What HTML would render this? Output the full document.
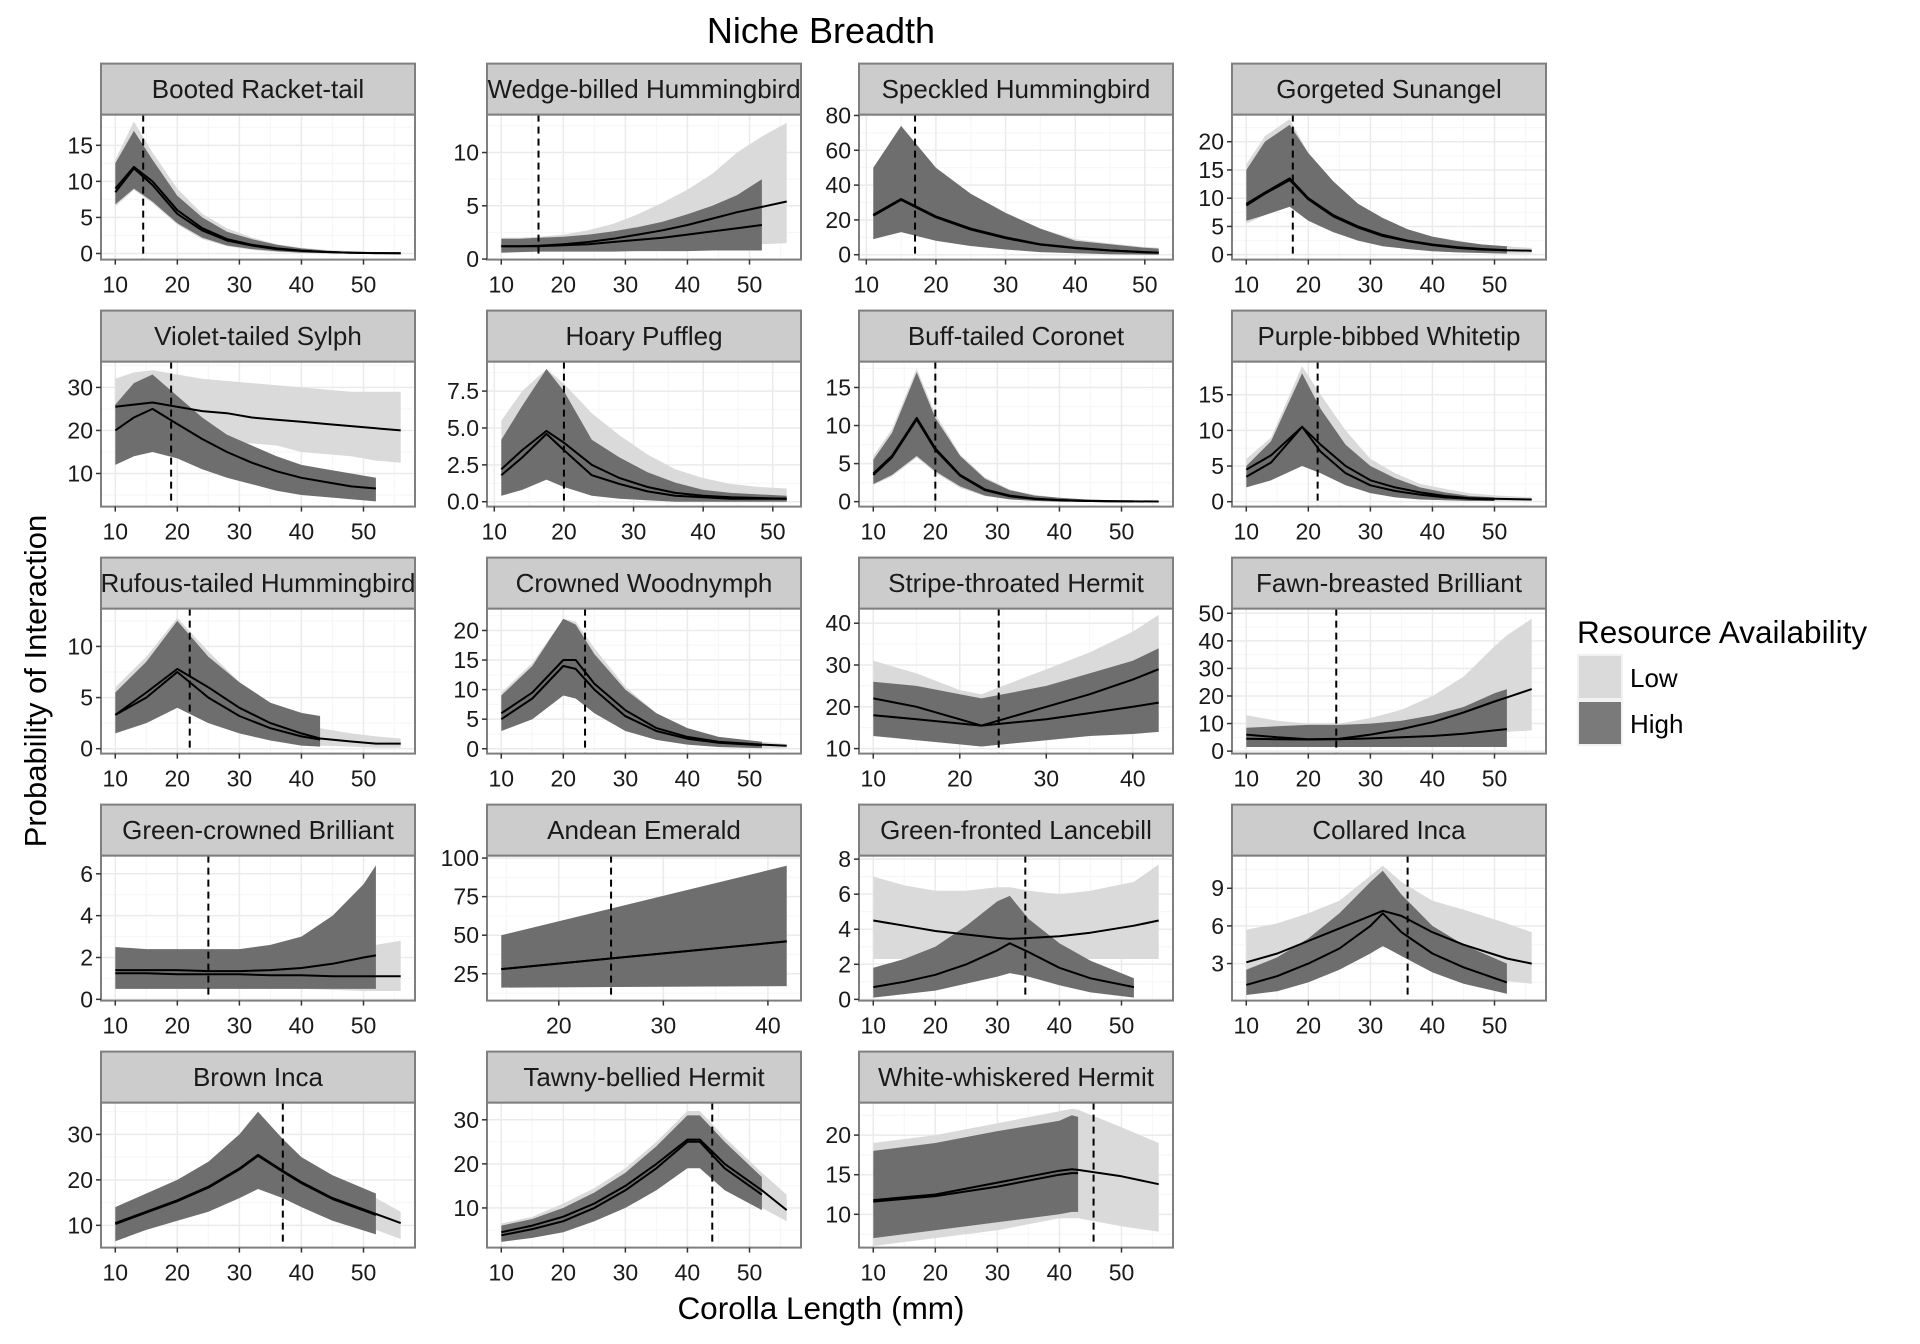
<!DOCTYPE html>
<html><head><meta charset="utf-8"><title>Niche Breadth</title>
<style>html,body{margin:0;padding:0;background:#fff;}svg{display:block;font-family:"Liberation Sans",Arial,sans-serif;}</style>
</head><body>
<svg id="chart" width="1920" height="1344" viewBox="0 0 1920 1344">
<text x="821" y="43" font-size="36" text-anchor="middle" fill="#000">Niche Breadth</text>
<text x="821" y="1319" font-size="31.5" text-anchor="middle" fill="#000">Corolla Length (mm)</text>
<text transform="translate(46,681) rotate(-90)" font-size="31" text-anchor="middle" fill="#000">Probability of Interaction</text>
<g>
<text x="1577" y="643" font-size="31.5" fill="#000">Resource Availability</text>
<rect x="1578" y="655" width="44" height="44" fill="#dadada" stroke="#f2f2f2" stroke-width="2"/>
<rect x="1578" y="701" width="44" height="44" fill="#7a7a7a" stroke="#f2f2f2" stroke-width="2"/>
<text x="1630" y="687" font-size="26" fill="#000">Low</text>
<text x="1630" y="733" font-size="26" fill="#000">High</text>
</g>
<g id="panels"></g>
</svg>
<script>
// ---------- data ----------
const bootedX=[10,13,16,20,24,28,32,36,40,44,48,52,56];
const bootedLowLo=[6.5,8.8,7,4,2,1,0.5,0.2,0.1,0,0,0,0];
const bootedLowHi=[13,18.3,14,9,5.5,3.5,2.2,1.3,0.8,0.5,0.3,0.2,0.1];
const bootedLowLine=[9,12,10,6,3.5,2,1.2,0.7,0.4,0.2,0.1,0.05,0.03];
const bootedHighLo=[6.8,9,7.2,4.2,2.2,1.1,0.6,0.3,0.1,0.05,0,0,0];
const bootedHighHi=[12.5,17,13,8,5,3,2,1.2,0.7,0.4,0.2,0.1,0.05];
const bootedHighLine=[8.5,11.8,9.5,5.5,3.2,1.8,1.1,0.6,0.35,0.2,0.1,0.05,0.03];

const wedgeX=[10,13,16,20,24,28,32,36,40,44,48,52,56];
const wedgeLowLo=[0.7,0.7,0.7,0.75,0.8,0.8,0.85,0.9,1,1.1,1.2,1.4,1.5];
const wedgeLowHi=[2,2,2.1,2.3,2.7,3.3,4.2,5.3,6.5,8,10,11.5,12.8];
const wedgeLowLine=[1.2,1.2,1.25,1.4,1.6,1.9,2.3,2.7,3.2,3.8,4.4,4.9,5.4];
const wedgeHighLo=[0.6,0.65,0.7,0.7,0.7,0.7,0.75,0.75,0.75,0.8,0.8,0.8,null];
const wedgeHighHi=[1.9,1.9,2,2.1,2.3,2.6,3,3.5,4.2,5,6,7.5,null];
const wedgeHighLine=[1.2,1.2,1.2,1.3,1.4,1.6,1.8,2.0,2.3,2.6,2.9,3.2,null];

const speckX=[11,15,20,25,30,35,40,45,50,52];
const speckLowLo=[9,13,8,5,3,1.5,0.8,0.3,0.1,0.1];
const speckLowHi=[50,74,50,35,24,15,9,6.5,4.5,4];
const speckLowLine=[23,32,22,15,10,6,4,2.5,1.5,1.2];
const speckHighLo=[9,13,8,5,3,1.5,0.8,0.3,0.1,0.1];
const speckHighHi=[50,74,50,35,24,15,8,6,4,3.5];
const speckHighLine=[22.5,31.5,21.5,14.5,9.5,5.8,3.8,2.4,1.4,1.1];

const gorgX=[10,13,17,20,24,28,32,36,40,44,48,52,56];
const gorgLowLo=[5.5,7,8.5,6,4,2.5,1.5,1,0.6,0.4,0.3,0.2,0.2];
const gorgLowHi=[16,21,24,18,13,9,6.5,4.5,3.2,2.5,1.8,1.5,1.2];
const gorgLowLine=[9,11,13.5,10,7,5,3.5,2.5,1.8,1.3,1,0.8,0.7];
const gorgHighLo=[6,7,8.5,6,4,2.5,1.5,1,0.6,0.4,0.3,0.2,null];
const gorgHighHi=[15,20,23,18,13,9,6.5,4.5,3.2,2.4,1.8,1.5,null];
const gorgHighLine=[8.7,10.8,13.2,9.8,6.8,4.8,3.3,2.4,1.7,1.2,0.9,0.8,null];

const violetX=[10,13,16,20,24,28,32,36,40,44,48,52,56];
const violetLowLo=[12,14,15.5,16,16.5,17,17,16.5,15,14.5,14,13,12.5];
const violetLowHi=[32,33.5,34,33,32,31.5,31,30.5,30,29.5,29,29,29];
const violetLowLine=[25.5,26,26.5,25.5,24.5,24,23,22.5,22,21.5,21,20.5,20];
const violetHighLo=[12,14,15,13.5,11,9,7.5,6,5,4.5,4,3.5,null];
const violetHighHi=[26,31,33,28,23,19,16.5,14,12,11,10,9,null];
const violetHighLine=[20,23,25,21.5,18,15,12.5,10.5,9,8,7,6.5,null];

const hoaryX=[11,14,17.5,20,24,28,32,36,40,44,48,52];
const hoaryLowLo=[0.4,0.8,1.5,1,0.5,0.3,0.1,0,0,0,0,0];
const hoaryLowHi=[5.5,7.5,9,8,6,4.5,3.2,2.2,1.6,1.2,1,0.9];
const hoaryLowLine=[2.2,3.5,4.8,4,2.5,1.6,1,0.6,0.4,0.3,0.25,0.2];
const hoaryHighLo=[0.4,0.8,1.5,1,0.4,0.2,0.1,0,0,0,0,0];
const hoaryHighHi=[4.2,6.5,9,7.5,4.2,3,2,1.3,0.8,0.6,0.5,0.4];
const hoaryHighLine=[1.8,3,4.6,3.5,1.8,1.2,0.7,0.4,0.3,0.2,0.2,0.2];

const buffX=[10,13,17,20,24,28,32,36,40,44,48,52,56];
const buffLowLo=[2.2,3.3,5.8,3.8,1.8,0.7,0.3,0.1,0,0,0,0,0];
const buffLowHi=[6,9.5,17.5,11.5,6.2,3.2,1.6,0.9,0.5,0.3,0.2,0.15,0.1];
const buffLowLine=[3.7,6,11,7,3.5,1.6,0.8,0.4,0.2,0.1,0.05,0.03,0.02];
const buffHighLo=[2.3,3.5,6,4,2,0.8,0.3,0.1,0,0,0,0,null];
const buffHighHi=[5.5,9,17,11,6,3,1.5,0.8,0.5,0.3,0.2,0.1,null];
const buffHighLine=[3.5,5.8,10.8,6.8,3.4,1.5,0.7,0.35,0.2,0.1,0.05,0.03,null];

const purpleX=[10,14,19,22,26,30,34,38,42,46,50,56];
const purpleLowLo=[2.5,3.5,5.5,4,2.5,1.5,0.8,0.5,0.3,0.2,0.1,0.1];
const purpleLowHi=[6,9,19,15,10,6,4,2.5,1.8,1.2,0.9,0.6];
const purpleLowLine=[4.5,6.5,10.5,8,5,3,2,1.3,0.8,0.5,0.4,0.3];
const purpleHighLo=[2,3,5,4,2.3,1.2,0.6,0.3,0.2,0.1,0.1,null];
const purpleHighHi=[5,8.5,18,13,8,5,3.3,2,1.3,0.8,0.6,null];
const purpleHighLine=[3.5,5.5,10.5,7,4,2.3,1.5,1,0.6,0.4,0.3,null];

const rufousX=[10,15,20,25,30,35,40,43,48,52,56];
const rufousLowLo=[1.5,2.5,4,2.5,1.5,0.8,0.4,0.3,0.2,0.1,0.1];
const rufousLowHi=[6,9,12.8,9.5,6.5,4,2.5,2,1.5,1.2,1];
const rufousLowLine=[3.3,5.5,7.8,6,4,2.5,1.5,1,0.7,0.5,0.5];
const rufousHighLo=[1.5,2.5,4,2.5,1.5,0.8,0.3,0.2,null,null,null];
const rufousHighHi=[5.5,8.5,12.5,9,6.5,4.5,3.5,3.2,null,null,null];
const rufousHighLine=[3.3,5,7.5,5,3.2,2,1.2,0.9,null,null,null];

const crownedX=[10,15,20,22,25,30,35,40,45,52,56];
const crownedLowLo=[3,5,9,8.5,6,3,1.5,0.7,0.3,0.1,0.1];
const crownedLowHi=[9.5,14.5,22,21.5,17,10.5,6,3.5,2,1.2,0.8];
const crownedLowLine=[6,9.5,15,15,11,6.5,3.5,2,1.2,0.7,0.5];
const crownedHighLo=[3,5,9,8.5,6,3,1.5,0.7,0.3,0.1,null];
const crownedHighHi=[9,14,22,21,16,10,6,3.5,2,1.2,null];
const crownedHighLine=[5,8.5,14,13.5,10,5.5,3,1.7,1,0.6,null];

const stripeX=[10,15,20,22.5,25,30,35,40,43];
const stripeLowLo=[13,12.5,11,10.5,11,12,13,14,14.5];
const stripeLowHi=[31,28,24,23,25,29,33,38,42];
const stripeLowLine=[22,20,17,15.5,17,20,23,26.5,29];
const stripeHighLo=[13,12,11,10.5,11,12,13,13.5,14];
const stripeHighHi=[26,25,23,22,23,25,28,31,34];
const stripeHighLine=[18,17,16,15.5,16,17,18.5,20,21];

const fawnX=[10,15,20,25,30,35,40,45,50,52,56];
const fawnLowLo=[1.5,1.5,1.5,1.5,2,2.5,3,4,6,7,7.5];
const fawnLowHi=[13,11,10,10,12,15,20,27,38,42,48];
const fawnLowLine=[6,5,4.3,4.5,6,8,10.5,14,18,19.5,22.5];
const fawnHighLo=[1.5,1.5,1.5,1.5,1.5,1.5,1.5,1.5,1.5,1.5,null];
const fawnHighHi=[8.5,9,9.5,9.5,10,11,13,16,21,22.5,null];
const fawnHighLine=[4.5,4.3,4.2,4.3,4.6,5,5.5,6.3,7.5,8,null];

const gcrownX=[10,15,20,25,30,35,40,45,50,52,56];
const gcrownLowLo=[0.5,0.5,0.5,0.5,0.5,0.5,0.5,0.45,0.4,0.4,0.4];
const gcrownLowHi=[2.2,2.1,2,2,2,2,2.1,2.2,2.5,2.6,2.8];
const gcrownLowLine=[1.25,1.25,1.2,1.2,1.2,1.15,1.15,1.1,1.1,1.1,1.1];
const gcrownHighLo=[0.5,0.5,0.5,0.5,0.5,0.5,0.5,0.5,0.5,0.5,null];
const gcrownHighHi=[2.5,2.4,2.4,2.4,2.4,2.6,3,4,5.5,6.4,null];
const gcrownHighLine=[1.4,1.4,1.4,1.35,1.35,1.4,1.5,1.7,2,2.1,null];

const andeanX=[14.5,41.8];
const andeanLowLo=[16,17];
const andeanLowHi=[50,95];
const andeanLowLine=[28,46];
const andeanHighLo=[16,17];
const andeanHighHi=[50,95];
const andeanHighLine=[28,46];

const gfrontX=[10,15,20,25,30,32,35,40,45,52,56];
const gfrontLowLo=[2.3,2.3,2.3,2.3,2.3,2.3,2.3,2.3,2.3,2.3,2.3];
const gfrontLowHi=[7,6.5,6.2,6.2,6.4,6.4,6.2,6.0,6.2,6.7,7.7];
const gfrontLowLine=[4.5,4.2,3.9,3.7,3.5,3.45,3.5,3.6,3.8,4.2,4.5];
const gfrontHighLo=[0.1,0.3,0.5,0.9,1.3,1.5,1.3,0.8,0.4,0.1,null];
const gfrontHighHi=[1.8,2.3,3,4.2,5.6,5.9,4.6,3.2,2.2,1.2,null];
const gfrontHighLine=[0.7,1.0,1.4,2,2.8,3.2,2.7,1.8,1.2,0.7,null];

const collarX=[10,15,20,25,30,32,35,40,45,52,56];
const collarLowLo=[1.3,1.8,2.5,3.2,4,4.3,4,3,2.3,1.6,1.4];
const collarLowHi=[5.7,6.2,7,8,10,10.8,9.5,8,7.3,6.2,5.5];
const collarLowLine=[3.1,3.8,4.8,5.8,6.8,7.2,6.8,5.5,4.5,3.4,3.0];
const collarHighLo=[0.5,0.8,1.5,2.5,3.8,4.4,3.6,2.3,1.4,0.6,null];
const collarHighHi=[2.5,3.5,5,7,9.5,10.4,8.5,6,4.5,3,null];
const collarHighLine=[1.3,2,3,4.2,6,7,5.5,3.8,2.7,1.5,null];

const brownX=[10,15,20,25,30,33,37,40,45,52,56];
const brownLowLo=[7,9.5,11.5,14,17,19,17,15,12,9,7];
const brownLowHi=[14,17,20,24,30,34,29,25,21,16,13];
const brownLowLine=[10.5,13,15.5,18.5,22.5,25.5,22,19.5,16,12.5,10.5];
const brownHighLo=[6.5,9,11,13,16,18,16,14,11,8,null];
const brownHighHi=[14,17,20,24,30,35,29,25,21,17,null];
const brownHighLine=[10.3,12.8,15.3,18.3,22.3,25.3,21.8,19.3,15.8,12.3,null];

const tawnyX=[10,15,20,25,30,35,40,42,46,52,56];
const tawnyLowLo=[2.5,3.5,5,7.5,11,15,20,20,15,10,7];
const tawnyLowHi=[6.5,8,11,14.5,19,25,32,32,26,18,13];
const tawnyLowLine=[4.5,6,8,11,15,20,25.5,25.5,20,14,9.5];
const tawnyHighLo=[2.3,3.2,4.5,7,10,14,19,19,14,9.5,null];
const tawnyHighHi=[6,7.5,10,13.5,18,24,31,31,25,17,null];
const tawnyHighLine=[3.8,5.2,7,10,14,19,25,25,19,13,null];

const whiteX=[10,20,30,40,42,43,50,56];
const whiteLowLo=[6,7,8,9.5,9.5,9.5,8.5,7.8];
const whiteLowHi=[19,20,21.5,23,23.3,23.2,21,19];
const whiteLowLine=[11.8,12.5,14,15.5,15.7,15.6,14.8,13.8];
const whiteHighLo=[7,8,9,10,10.3,10.3,null,null];
const whiteHighHi=[18,19,20.5,21.8,22.5,22.3,null,null];
const whiteHighLine=[11.6,12.3,13.5,15,15.2,15.2,null,null];

const panelNames=["Booted Racket-tail","Wedge-billed Hummingbird","Speckled Hummingbird","Gorgeted Sunangel","Violet-tailed Sylph","Hoary Puffleg","Buff-tailed Coronet","Purple-bibbed Whitetip","Rufous-tailed Hummingbird","Crowned Woodnymph","Stripe-throated Hermit","Fawn-breasted Brilliant","Green-crowned Brilliant","Andean Emerald","Green-fronted Lancebill","Collared Inca","Brown Inca","Tawny-bellied Hermit","White-whiskered Hermit"];
const vlineValues=[14.5,16,17,17.5,19,20,20,21.5,22,23.5,24.5,24.5,25,25,34.5,36,37,44,45.5];
const yMinValues=[-0.85,-0.05,-2.8,-0.87,2.3,-0.33,-0.65,-0.69,-0.48,-0.82,8.8,-0.9,-0.06,7.6,-0.07,0.05,5.1,1.0,5.8];
const yMaxValues=[19.26,13.56,80.5,24.8,36,9.5,18.4,19.65,13.7,23.7,43.5,51.7,6.87,101.6,8.2,11.6,37,33.9,24.1];
const yTickLabels=[["0","5","10","15"],["0","5","10"],["0","20","40","60","80"],["0","5","10","15","20"],["10","20","30"],["0.0","2.5","5.0","7.5"],["0","5","10","15"],["0","5","10","15"],["0","5","10"],["0","5","10","15","20"],["10","20","30","40"],["0","10","20","30","40","50"],["0","2","4","6"],["25","50","75","100"],["0","2","4","6","8"],["3","6","9"],["10","20","30"],["10","20","30"],["10","15","20"]];
const xTickDefault=["10","20","30","40","50"];
const xTickStripe=["10","20","30","40"];
const xTickAndean=["20","30","40"];

const seriesSets=[
 [bootedX,bootedLowLo,bootedLowHi,bootedLowLine,bootedHighLo,bootedHighHi,bootedHighLine,xTickDefault],
 [wedgeX,wedgeLowLo,wedgeLowHi,wedgeLowLine,wedgeHighLo,wedgeHighHi,wedgeHighLine,xTickDefault],
 [speckX,speckLowLo,speckLowHi,speckLowLine,speckHighLo,speckHighHi,speckHighLine,xTickDefault],
 [gorgX,gorgLowLo,gorgLowHi,gorgLowLine,gorgHighLo,gorgHighHi,gorgHighLine,xTickDefault],
 [violetX,violetLowLo,violetLowHi,violetLowLine,violetHighLo,violetHighHi,violetHighLine,xTickDefault],
 [hoaryX,hoaryLowLo,hoaryLowHi,hoaryLowLine,hoaryHighLo,hoaryHighHi,hoaryHighLine,xTickDefault],
 [buffX,buffLowLo,buffLowHi,buffLowLine,buffHighLo,buffHighHi,buffHighLine,xTickDefault],
 [purpleX,purpleLowLo,purpleLowHi,purpleLowLine,purpleHighLo,purpleHighHi,purpleHighLine,xTickDefault],
 [rufousX,rufousLowLo,rufousLowHi,rufousLowLine,rufousHighLo,rufousHighHi,rufousHighLine,xTickDefault],
 [crownedX,crownedLowLo,crownedLowHi,crownedLowLine,crownedHighLo,crownedHighHi,crownedHighLine,xTickDefault],
 [stripeX,stripeLowLo,stripeLowHi,stripeLowLine,stripeHighLo,stripeHighHi,stripeHighLine,xTickStripe],
 [fawnX,fawnLowLo,fawnLowHi,fawnLowLine,fawnHighLo,fawnHighHi,fawnHighLine,xTickDefault],
 [gcrownX,gcrownLowLo,gcrownLowHi,gcrownLowLine,gcrownHighLo,gcrownHighHi,gcrownHighLine,xTickDefault],
 [andeanX,andeanLowLo,andeanLowHi,andeanLowLine,andeanHighLo,andeanHighHi,andeanHighLine,xTickAndean],
 [gfrontX,gfrontLowLo,gfrontLowHi,gfrontLowLine,gfrontHighLo,gfrontHighHi,gfrontHighLine,xTickDefault],
 [collarX,collarLowLo,collarLowHi,collarLowLine,collarHighLo,collarHighHi,collarHighLine,xTickDefault],
 [brownX,brownLowLo,brownLowHi,brownLowLine,brownHighLo,brownHighHi,brownHighLine,xTickDefault],
 [tawnyX,tawnyLowLo,tawnyLowHi,tawnyLowLine,tawnyHighLo,tawnyHighHi,tawnyHighLine,xTickDefault],
 [whiteX,whiteLowLo,whiteLowHi,whiteLowLine,whiteHighLo,whiteHighHi,whiteHighLine,xTickDefault]
];

// ---------- layout ----------
const colLeft=[101,487,859,1232];
const panelW=314, stripTop0=63.6, rowPitch=247, stripH=51, plotH=145;
const NS="http://www.w3.org/2000/svg";
const root=document.getElementById("panels");
function mk(tag,attrs,parent){const e=document.createElementNS(NS,tag);for(const k in attrs)e.setAttribute(k,attrs[k]);(parent||root).appendChild(e);return e;}
function slug(s){return s.toLowerCase().replace(/[^a-z0-9]+/g,"-");}

panelNames.forEach((name,i)=>{
  const col=i%4,row=Math.floor(i/4);
  const L=colLeft[col], T=stripTop0+row*rowPitch+stripH, W=panelW, H=plotH;
  const [xs,lowLo,lowHi,lowLine,highLo,highHi,highLine,xTicks]=seriesSets[i];
  const xmin0=Math.min(...xs), xmax0=Math.max(...xs), pad=(xmax0-xmin0)*0.05;
  const xmin=xmin0-pad, xmax=xmax0+pad, ymin=yMinValues[i], ymax=yMaxValues[i];
  const X=v=>L+(v-xmin)/(xmax-xmin)*W;
  const Y=v=>T+H-(v-ymin)/(ymax-ymin)*H;
  const g=mk("g",{});
  
  
  const bg=mk("rect",{x:L,y:T,width:W,height:H,fill:"#fff"},g);
  
  
  const yt=yTickLabels[i].map(Number), xt=xTicks.map(Number);
  const ystep=yt.length>1?yt[1]-yt[0]:10, xstep=xt.length>1?xt[1]-xt[0]:10;
  for(let v=yt[0]-ystep/2;v<=ymax;v+=ystep){if(v>=ymin){const ln=mk("line",{x1:L,x2:L+W,y1:Y(v),y2:Y(v),stroke:"#f7f7f7","stroke-width":1.2},g);}}
  for(let v=xt[0]-xstep/2;v<=xmax;v+=xstep){if(v>=xmin){const ln=mk("line",{x1:X(v),x2:X(v),y1:T,y2:T+H,stroke:"#f7f7f7","stroke-width":1.2},g);}}
  yt.forEach(v=>{const ln=mk("line",{x1:L,x2:L+W,y1:Y(v),y2:Y(v),stroke:"#ebebeb","stroke-width":1.5},g);});
  xt.forEach(v=>{const ln=mk("line",{x1:X(v),x2:X(v),y1:T,y2:T+H,stroke:"#ebebeb","stroke-width":1.5},g);});
  function band(lo,hi,fill,nm){
    const idx=xs.map((_,k)=>k).filter(k=>lo[k]!=null&&hi[k]!=null);
    let d=idx.map((k,j)=>(j?"L":"M")+X(xs[k]).toFixed(1)+","+Y(hi[k]).toFixed(1)).join("");
    d+=idx.slice().reverse().map(k=>"L"+X(xs[k]).toFixed(1)+","+Y(lo[k]).toFixed(1)).join("")+"Z";
    const p=mk("path",{d:d,fill:fill},g);
    
    
  }
  function line(vals,nm){
    const idx=xs.map((_,k)=>k).filter(k=>vals[k]!=null);
    const d=idx.map((k,j)=>(j?"L":"M")+X(xs[k]).toFixed(1)+","+Y(vals[k]).toFixed(1)).join("");
    const p=mk("path",{d:d,fill:"none",stroke:"#000","stroke-width":2,"stroke-linejoin":"round"},g);
    
    
  }
  band(lowLo,lowHi,"#dadada","low-ci-band");
  band(highLo,highHi,"#6e6e6e","high-ci-band");
  line(lowLine,"low-line");
  line(highLine,"high-line");
  const vl=mk("line",{x1:X(vlineValues[i]),x2:X(vlineValues[i]),y1:T,y2:T+H,stroke:"#000","stroke-width":2,"stroke-dasharray":"7,5"},g);
  
  
  const br=mk("rect",{x:L,y:T,width:W,height:H,fill:"none",stroke:"#7f7f7f","stroke-width":2},g);
  
  
  const st=mk("rect",{x:L,y:T-stripH,width:W,height:stripH,fill:"#cccccc",stroke:"#7f7f7f","stroke-width":2},g);
  
  
  const tx=mk("text",{x:L+W/2,y:T-stripH/2+9,"font-size":26,"text-anchor":"middle",fill:"#1a1a1a"},g);
  tx.textContent=name;
  
  
  yTickLabels[i].forEach(s=>{const v=Number(s);
    const tk=mk("line",{x1:L-5,x2:L,y1:Y(v),y2:Y(v),stroke:"#333","stroke-width":1.5},g);
    
    const t=mk("text",{x:L-8,y:Y(v)+8,"font-size":23,"text-anchor":"end",fill:"#1a1a1a"},g);
    t.textContent=s;});
  xTicks.forEach(s=>{const v=Number(s);
    const tk=mk("line",{x1:X(v),x2:X(v),y1:T+H,y2:T+H+5,stroke:"#333","stroke-width":1.5},g);
    
    const t=mk("text",{x:X(v),y:T+H+33,"font-size":23,"text-anchor":"middle",fill:"#1a1a1a"},g);
    t.textContent=s;});
});
</script>
</body></html>
